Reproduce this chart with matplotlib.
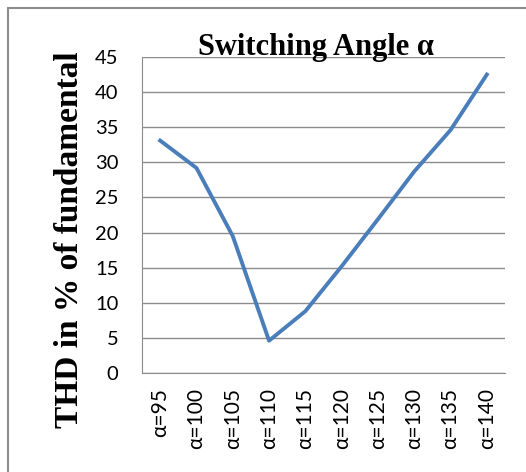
import matplotlib.pyplot as plt
from matplotlib.patches import Rectangle

# switching angles and THD values
angles = [95, 100, 105, 110, 115, 120, 125, 130, 135, 140]
thd = [33.1, 29.2, 19.5, 4.6, 8.8, 15.2, 21.9, 28.7, 34.6, 42.5]
labels = ['α=%d' % a for a in angles]
yticks = [0, 5, 10, 15, 20, 25, 30, 35, 40, 45]

fig = plt.figure(figsize=(5.26, 4.72), dpi=100)
ax = fig.add_axes([142 / 526, 1 - 373 / 472, 363 / 526, 316 / 472])

# outer chart frame (only left/top visible in the crop)
fig.patches.append(Rectangle((8 / 526, -0.1), 1.2, 1 - 8 / 472 + 0.1,
                             transform=fig.transFigure, fill=False,
                             edgecolor='#8c8c8c', linewidth=1.5))

x = list(range(len(angles)))
ax.plot(x, thd, color='#4A7EBB', linewidth=2.8, solid_joinstyle='round')

ax.set_xlim(-0.5, len(angles) - 0.5)
ax.set_ylim(0, 45)
ax.set_yticks(yticks)
ax.set_xticks(x)
ax.set_xticklabels(labels, rotation=90, fontsize=15, family='Lato')
for t in ax.get_yticklabels():
    t.set_fontsize(14.5)
    t.set_family('Lato')
ax.tick_params(length=0)
ax.tick_params(axis='y', pad=17)
ax.tick_params(axis='x', pad=11)

ax.grid(axis='y', color='#8c8c8c', linewidth=1)
ax.set_axisbelow(True)
for s in ['top', 'right']:
    ax.spines[s].set_visible(False)
for s in ['left', 'bottom']:
    ax.spines[s].set_color('#8c8c8c')

fig.text(316 / 526, 1 - 55 / 472, 'Switching Angle α', family='Liberation Serif',
         fontweight='bold', fontsize=22, ha='center', va='baseline')
fig.text(70 / 526, 1 - 240 / 472, 'THD in % of fundamental', rotation=90,
         family='Liberation Serif', fontweight='bold', fontsize=24,
         ha='center', va='center')

fig.savefig('out.png', dpi=100)
